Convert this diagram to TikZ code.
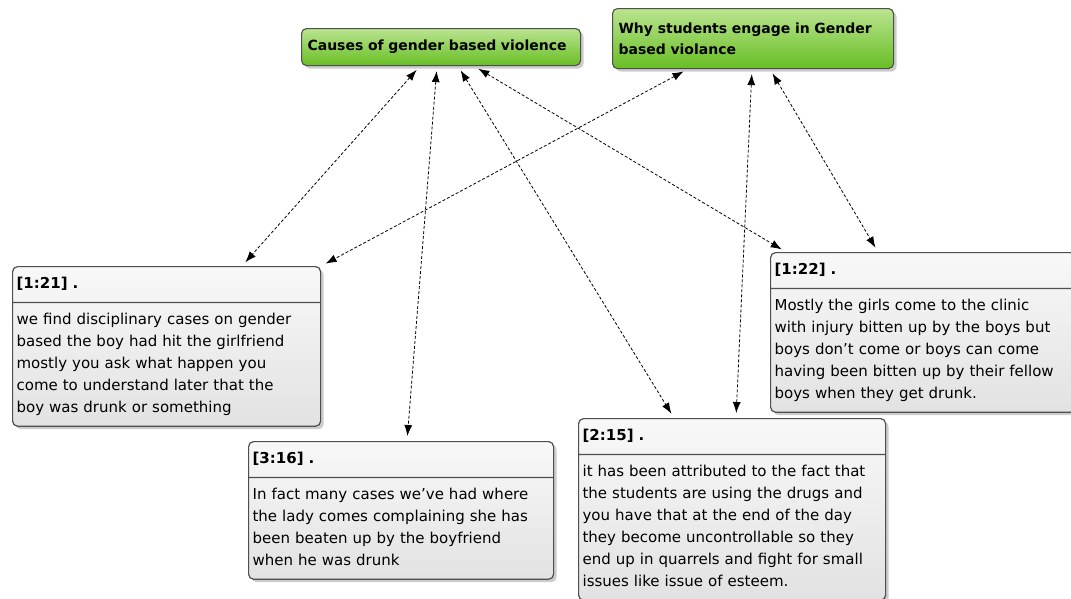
\documentclass[tikz,border=0pt]{standalone}
\usepackage{fontspec}
\setmainfont{DejaVu Sans}
\usetikzlibrary{shapes.multipart, arrows.meta, positioning, shadows}

\definecolor{greentop}{RGB}{186,228,144}
\definecolor{greenbottom}{RGB}{104,190,36}
\definecolor{boxline}{RGB}{78,78,78}
\definecolor{quotetop}{RGB}{248,248,248}
\definecolor{quotebottom}{RGB}{226,226,226}

\begin{document}
\begin{tikzpicture}[x=1pt, y=-1pt,
		% Define styles
		topic/.style={
			rectangle,
			draw=boxline,
			line width=1.1pt,
			rounded corners=5pt,
			top color=greentop,
			bottom color=greenbottom,
			font=\fontsize{14}{21}\selectfont\bfseries,
			align=left,
			anchor=north west,
			inner xsep=6pt,
			drop shadow={shadow xshift=3pt, shadow yshift=-3pt, opacity=0.4}
		},
		excerpt/.style={
			rectangle split,
			rectangle split parts=2,
			draw=boxline,
			line width=1.2pt,
			rounded corners=5pt,
			top color=quotetop,
			bottom color=quotebottom,
			font=\fontsize{15}{22}\selectfont,
			align=left,
			anchor=north west,
			inner xsep=4pt,
			inner ysep=6.3pt,
			drop shadow={shadow xshift=3pt, shadow yshift=-3pt, opacity=0.4}
		},
		% Define arrow style
		link/.style={{Latex[length=11pt,width=8pt]}-{Latex[length=11pt,width=8pt]},
			dash pattern=on 3pt off 2pt, thick, shorten >=5pt, shorten <=5pt}
		]
		\useasboundingbox (0,0) rectangle (1071,598);
		\clip (0,0) rectangle (1071,598);
		
		% ----- Codes -----
		\node[topic, text width=267pt, minimum height=37pt] (causes) at (301,28)
		{Causes of gender based violence};
		\node[topic, text width=269pt, minimum height=60pt] (why) at (612,8)
		{Why students engage in Gender\\based violance};
		
		% ----- Quotations -----
		\node[excerpt, text width=300pt] (q121) at (12,266) {
			\strut\textbf{[1:21] .}
			\nodepart{two}
			\strut we find disciplinary cases on gender\\
			based the boy had hit the girlfriend\\
			mostly you ask what happen you\\
			come to understand later that the\\
			boy was drunk or something\strut
		};
		\node[excerpt, text width=297pt] (q316) at (248,441) {
			\strut\textbf{[3:16] .}
			\nodepart{two}
			\strut In fact many cases we’ve had where\\
			the lady comes complaining she has\\
			been beaten up by the boyfriend\\
			when he was drunk\strut
		};
		\node[excerpt, text width=299pt] (q215) at (578,418) {
			\strut\textbf{[2:15] .}
			\nodepart{two}
			\strut it has been attributed to the fact that\\
			the students are using the drugs and\\
			you have that at the end of the day\\
			they become uncontrollable so they\\
			end up in quarrels and fight for small\\
			issues like issue of esteem.\strut
		};
		\node[excerpt, text width=297pt] (q122) at (770,252) {
			\strut\textbf{[1:22] .}
			\nodepart{two}
			\strut Mostly the girls come to the clinic\\
			with injury bitten up by the boys but\\
			boys don’t come or boys can come\\
			having been bitten up by their fellow\\
			boys when they get drunk.\strut
		};
		
		% ----- Links -----
		\draw[link] ([xshift=119pt]causes.south west) -- ([xshift=230pt]q121.north west);
		\draw[link] ([xshift=136pt]causes.south west) -- ([xshift=159pt]q316.north west);
		\draw[link] ([xshift=157pt]causes.south west) -- ([xshift=96pt]q215.north west);
		\draw[link] ([xshift=173pt]causes.south west) -- ([xshift=16pt]q122.north west);
		
		\draw[link] ([xshift=76pt]why.south west) -- (q121.north east);
		\draw[link] ([xshift=140pt]why.south west) -- ([xshift=158pt]q215.north west);
		\draw[link] ([xshift=158pt]why.south west) -- ([xshift=108pt]q122.north west);
		
	\end{tikzpicture}
\end{document}
